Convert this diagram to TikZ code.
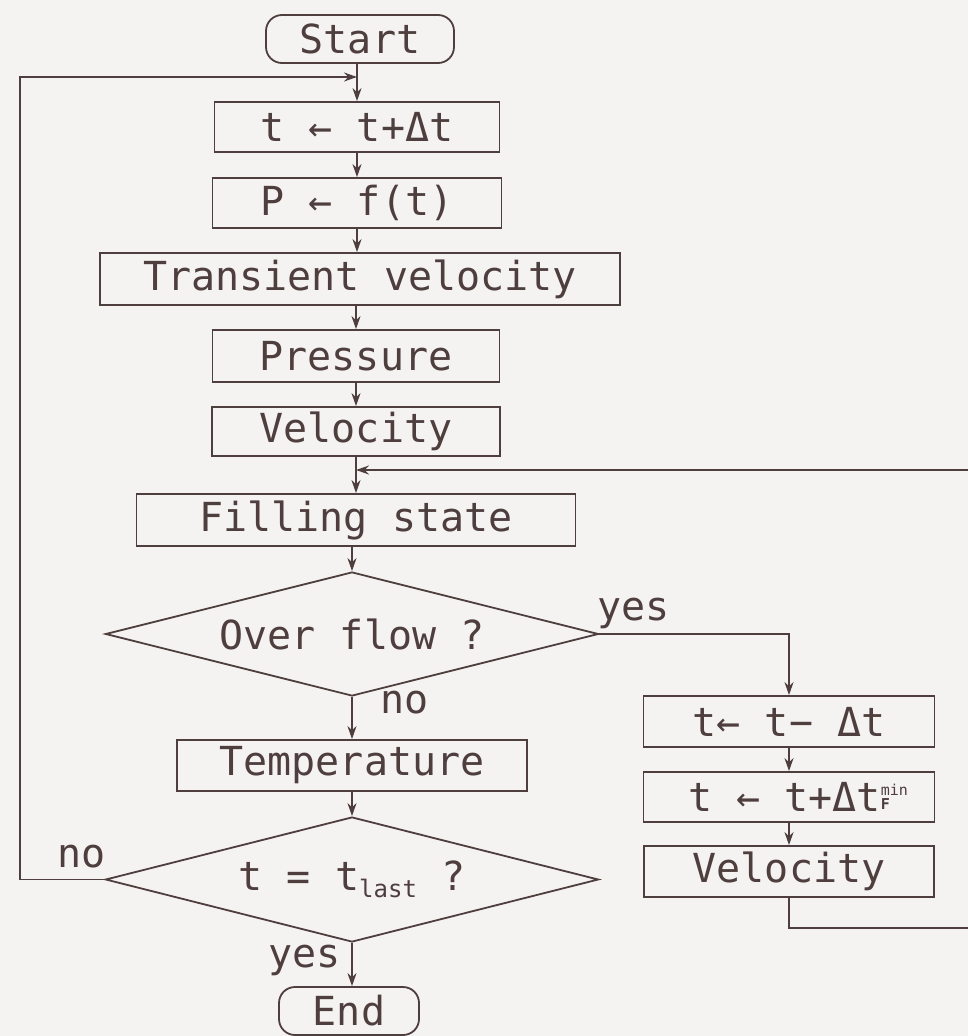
\documentclass[tikz,border=0pt]{standalone}
\usepackage{fontspec}
\newfontfamily\plotfam{DejaVu Sans Mono}
\usetikzlibrary{shapes.geometric,arrows.meta}
\definecolor{ink}{RGB}{78,62,62}
\definecolor{paper}{RGB}{244,243,241}
\newcommand\plotfont{\plotfam\fontsize{40}{48}\selectfont}
\begin{document}
\begin{tikzpicture}[x=1pt,y=-1pt,
  box/.style={draw=ink, line width=1.8pt, rectangle, inner sep=0pt, font=\plotfont, text=ink},
  term/.style={box, rounded corners=16pt},
  dec/.style={box, diamond, aspect=4},
  arr/.style={draw=ink, line width=1.8pt, -{Stealth[length=13pt,width=9pt]}},
  lbl/.style={font=\plotfont, text=ink, inner sep=0pt}]
\fill[paper] (0,0) rectangle (968,1036);
\clip (0,0) rectangle (968,1036);
% main column
\node[term, minimum width=188pt, minimum height=48pt] (start) at (360,39) {Start};
\node[box, minimum width=285pt, minimum height=50pt] (t1) at (357,127) {t ← t+Δt};
\node[box, minimum width=289pt, minimum height=50pt] (pf) at (357,203) {P ← f(t)};
\node[box, minimum width=520pt, minimum height=52pt] (tv) at (360,279) {Transient velocity};
\node[box, minimum width=287pt, minimum height=52pt] (pr) at (356,356) {Pressure};
\node[box, minimum width=288pt, minimum height=49pt] (ve) at (356,431.5) {Velocity};
\node[box, minimum width=439pt, minimum height=52pt] (fs) at (356,520) {Filling state};
\node[dec, minimum width=493pt, minimum height=124pt] (of) at (352,634) {Over flow ?};
\node[box, minimum width=350pt, minimum height=51pt] (te) at (352,765.5) {Temperature};
\node[dec, minimum width=493pt, minimum height=125pt] (tl) at (352,879.5)
  {t = t\raisebox{-7pt}{\fontsize{24}{24}\selectfont last} ?};
\node[term, minimum width=140pt, minimum height=48pt] (en) at (349,1011) {End};
% right column
\node[box, minimum width=291pt, minimum height=51pt] (tm) at (789,721.5) {t← t− Δt};
\node[box, minimum width=291pt, minimum height=50pt] (tp) at (789,797)
  {t ← t+Δt\rlap{\raisebox{16pt}{\fontsize{15}{15}\selectfont min}}\raisebox{2pt}{\fontsize{15}{15}\selectfont\bfseries F}\hspace{14pt}};
\node[box, minimum width=290pt, minimum height=51pt] (v2) at (789,871.5) {Velocity};
% labels
\node[lbl, anchor=base west] (yes1) at (597,620) {yes};
\node[lbl, anchor=base west] (no1) at (380,713) {no};
\node[lbl, anchor=base west] (no2) at (57,867) {no};
\node[lbl, anchor=base west] (yes2) at (268,967) {yes};
% helper coordinates
\coordinate (y77) at (0,77);
\coordinate (y470) at (0,470);
\coordinate (y928) at (0,928);
\coordinate (L) at (20,0);
\coordinate (R) at (985,0);
% connectors
\draw[arr] (t1.north |- start.south) -- (t1.north);
\draw[arr] (t1.south) -- (pf.north);
\draw[arr] (pf.south) -- (pf.south |- tv.north);
\draw[arr] (pr.north |- tv.south) -- (pr.north);
\draw[arr] (pr.south) -- (ve.north);
\draw[arr] (ve.south) -- (fs.north);
\draw[arr] (fs.south -| of.north) -- (of.north);
\draw[arr] (of.south) -- (te.north);
\draw[arr] (te.south) -- (tl.north);
\draw[arr] (tl.south) -- (tl.south |- en.north);
\draw[arr] (of.east) -| (tm.north);
\draw[arr] (tm.south) -- (tp.north);
\draw[arr] (tp.south) -- (v2.north);
\draw[arr] (tl.west) -- (L |- tl.west) -- (L |- y77) -- (t1.north |- y77);
\draw[arr] (v2.south) -- (v2.south |- y928) -- (R |- y928) -- (R |- y470) -- (ve.south |- y470);
\end{tikzpicture}
\end{document}
